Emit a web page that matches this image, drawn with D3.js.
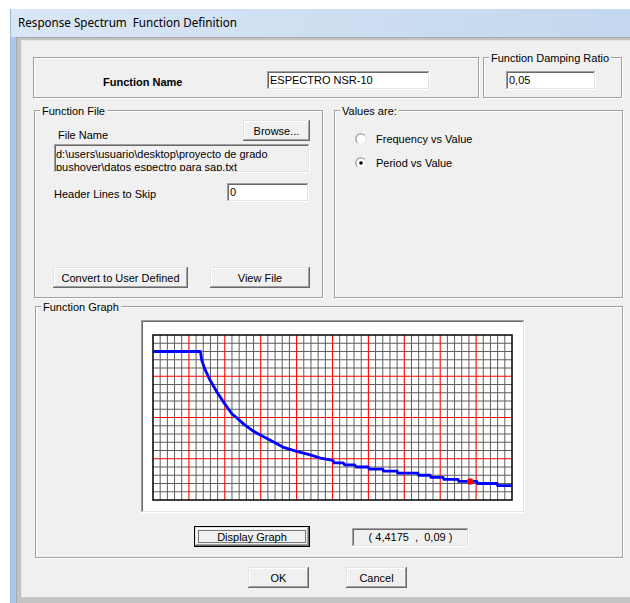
<!DOCTYPE html>
<html><head><meta charset="utf-8">
<script src="https://cdn.jsdelivr.net/npm/d3@7"></script>
<style>
body{margin:0;background:#fff}
svg{display:block}
text{font-family:"Liberation Sans",Arial,sans-serif;font-size:11px;fill:#000;white-space:pre}
</style>
</head><body>
<svg id="c" width="630" height="603"></svg>
<script>
// ---- data ----
const periods = [0, 0.66, 0.68, 0.72, 0.79, 0.89, 1.00, 1.10, 1.17, 1.26, 1.40, 1.54, 1.68, 1.82, 2.00, 2.19, 2.33, 2.47,
  2.51, 2.52, 2.65, 2.67, 2.81, 2.83, 3.00, 3.01, 3.20, 3.21, 3.40, 3.41, 3.69, 3.70, 3.86, 3.87, 4.04, 4.05, 4.25, 4.26, 4.51, 4.52, 4.79, 4.80, 5.00];
const spectrum = [0.72, 0.72, 0.676, 0.637, 0.584, 0.524, 0.466, 0.417, 0.398, 0.369, 0.333, 0.307, 0.281, 0.255, 0.236, 0.219, 0.203, 0.195,
  0.19, 0.18, 0.18, 0.17, 0.17, 0.16, 0.16, 0.15, 0.15, 0.14, 0.14, 0.13, 0.13, 0.12, 0.12, 0.11, 0.11, 0.10, 0.10, 0.09, 0.09, 0.08, 0.08, 0.07, 0.07];
const xDomain = [0, 5];
const yDomain = [0, 0.8];
const xMajorTicks = [0.5, 1, 1.5, 2, 2.5, 3, 3.5, 4, 4.5];
const xMinorTicks = d3.range(1, 50).filter(i => i % 5 !== 0).map(i => i / 10);
const yMajorTicks = [0.2, 0.4, 0.6];
const yMinorTicks = d3.range(1, 20).filter(i => i % 5 !== 0).map(i => i * 0.04);
const markerT = 4.4175, markerSa = 0.09;
const markerLabel = "( 4,4175  ,  0,09 )";

const svg = d3.select("#c");
const defs = svg.append("defs");

// ---- helpers ----
function hline(g, x1, x2, y, c){ g.append("line").attr("x1",x1).attr("x2",x2).attr("y1",y+0.5).attr("y2",y+0.5).attr("stroke",c); }
function vline(g, x, y1, y2, c){ g.append("line").attr("x1",x+0.5).attr("x2",x+0.5).attr("y1",y1).attr("y2",y2).attr("stroke",c); }
function raised(g, x, y, w, h, fill){
  g.append("rect").attr("x",x).attr("y",y).attr("width",w).attr("height",h).attr("fill",fill||"#f0f0f0");
  hline(g, x, x+w-1, y, "#e3e3e3"); vline(g, x, y, y+h-1, "#e3e3e3");
  hline(g, x+1, x+w-2, y+1, "#ffffff"); vline(g, x+1, y+1, y+h-2, "#ffffff");
  hline(g, x+1, x+w-1, y+h-2, "#a0a0a0"); vline(g, x+w-2, y+1, y+h-1, "#a0a0a0");
  hline(g, x, x+w, y+h-1, "#696969"); vline(g, x+w-1, y, y+h, "#696969");
}
function sunken(g, x, y, w, h, fill){
  g.append("rect").attr("x",x).attr("y",y).attr("width",w).attr("height",h).attr("fill",fill);
  hline(g, x, x+w-1, y, "#a0a0a0"); vline(g, x, y, y+h-1, "#a0a0a0");
  hline(g, x+1, x+w-2, y+1, "#696969"); vline(g, x+1, y+1, y+h-2, "#696969");
  hline(g, x+1, x+w-1, y+h-2, "#e3e3e3"); vline(g, x+w-2, y+1, y+h-1, "#e3e3e3");
  hline(g, x, x+w, y+h-1, "#ffffff"); vline(g, x+w-1, y, y+h, "#ffffff");
}
function group(g, x, y, w, h, legend){
  g.append("rect").attr("x",x+1.5).attr("y",y+1.5).attr("width",w-1).attr("height",h-1).attr("fill","none").attr("stroke","#ffffff");
  g.append("rect").attr("x",x+0.5).attr("y",y+0.5).attr("width",w-1).attr("height",h-1).attr("fill","none").attr("stroke","#a0a0a0");
  if (legend){
    const mask = g.append("rect").attr("x", x+6).attr("y", y-2).attr("height", 6).attr("fill","#f0f0f0");
    const t = g.append("text").attr("x", x+8).attr("y", y+4.5).text(legend);
    mask.attr("width", t.node().getComputedTextLength()+4);
  }
}
function button(g, x, y, w, h, label){
  raised(g, x, y, w, h);
  g.append("text").attr("x", x+w/2).attr("y", y+h/2+4).attr("text-anchor","middle").text(label);
}

// ---- window frame ----
const grad = defs.append("linearGradient").attr("id","tb").attr("x1",0).attr("x2",1).attr("y1",0).attr("y2",0);
grad.append("stop").attr("offset",0).attr("stop-color","#d9e6f5");
grad.append("stop").attr("offset",0.5).attr("stop-color","#cfdff2");
grad.append("stop").attr("offset",1).attr("stop-color","#c3d7ee");
svg.append("rect").attr("x",10).attr("y",9).attr("width",620).attr("height",28).attr("fill","url(#tb)");
svg.append("rect").attr("x",10).attr("y",37).attr("width",6).attr("height",566).attr("fill","#a9c8ea");
vline(svg, 10, 9, 603, "#9fb9d6");
svg.append("rect").attr("x",16).attr("y",37).attr("width",614).attr("height",566).attr("fill","#c3c3c3");
hline(svg, 16, 630, 37, "#a8a8a8"); vline(svg, 16, 37, 603, "#a8a8a8");
svg.append("rect").attr("x",21).attr("y",40).attr("width",609).attr("height",557).attr("fill","#f0f0f0");
hline(svg, 21, 630, 40, "#e6e6e6"); vline(svg, 21, 40, 597, "#e6e6e6");
hline(svg, 21, 630, 597, "#cacaca");
svg.append("text").attr("x",18).attr("y",27).style("font-family","'Noto Sans','Open Sans',sans-serif").style("font-size","12px")
  .attr("textLength",219).attr("lengthAdjust","spacingAndGlyphs").text("Response Spectrum  Function Definition");

const ui = svg.append("g");

// ---- Function name ----
group(ui, 33, 57, 446, 41, null);
ui.append("text").attr("x",103).attr("y",86).style("font-weight","bold").text("Function Name");
sunken(ui, 267, 71, 163, 19, "#ffffff");
ui.append("text").attr("x",270).attr("y",84).text("ESPECTRO NSR-10");

group(ui, 483, 57, 139, 41, "Function Damping Ratio");
sunken(ui, 506, 71, 90, 19, "#ffffff");
ui.append("text").attr("x",509).attr("y",84).text("0,05");

// ---- Function file ----
group(ui, 34, 110, 289, 188, "Function File");
ui.append("text").attr("x",58).attr("y",139).text("File Name");
button(ui, 243, 120, 67, 21, "Browse...");
sunken(ui, 54, 144, 256, 29, "#f0f0f0");
defs.append("clipPath").attr("id","fp").append("rect").attr("x",56).attr("y",146).attr("width",252).attr("height",25);
const fp = ui.append("g").attr("clip-path","url(#fp)");
fp.append("text").attr("x",56).attr("y",158).text("d:\\users\\usuario\\desktop\\proyecto de grado");
fp.append("text").attr("x",56).attr("y",171).text("pushover\\datos espectro para sap.txt");
ui.append("text").attr("x",54).attr("y",198).text("Header Lines to Skip");
sunken(ui, 227, 183, 82, 19, "#ffffff");
ui.append("text").attr("x",230).attr("y",196).text("0");
button(ui, 53, 267, 135, 21, "Convert to User Defined");
button(ui, 210, 267, 100, 21, "View File");

// ---- Values are ----
group(ui, 334, 110, 289, 188, "Values are:");
const arcTL = d3.arc().innerRadius(4.5).outerRadius(5.8).startAngle(-Math.PI*0.75).endAngle(Math.PI*0.25);
function radio(cx, cy, checked, label){
  ui.append("circle").attr("cx",cx).attr("cy",cy).attr("r",5.2).attr("fill","#ffffff").attr("stroke","#e8e8e8");
  ui.append("path").attr("d", arcTL()).attr("transform",`translate(${cx},${cy})`).attr("fill","#a0a0a0");
  if (checked) ui.append("circle").attr("cx",cx).attr("cy",cy).attr("r",1.8).attr("fill","#000");
  ui.append("text").attr("x",376).attr("y",cy+4).text(label);
}
radio(361, 139, false, "Frequency vs Value");
radio(361, 163, true, "Period vs Value");

// ---- Function graph ----
group(ui, 35, 306, 588, 252, "Function Graph");
sunken(ui, 141, 320, 384, 193, "#ffffff");

const x = d3.scaleLinear().domain(xDomain).range([153, 512]);
const y = d3.scaleLinear().domain(yDomain).range([500, 335]);
const plot = svg.append("g");
plot.append("g").selectAll("line").data(xMinorTicks).join("line")
  .attr("x1", d => x(d)).attr("x2", d => x(d)).attr("y1", y(yDomain[0])).attr("y2", y(yDomain[1]))
  .attr("stroke", "#5e5e5e").attr("stroke-width", 1);
plot.append("g").selectAll("line").data(yMinorTicks).join("line")
  .attr("y1", d => y(d)).attr("y2", d => y(d)).attr("x1", x(xDomain[0])).attr("x2", x(xDomain[1]))
  .attr("stroke", "#5e5e5e").attr("stroke-width", 1);
plot.append("g").selectAll("line").data(xMajorTicks).join("line")
  .attr("x1", d => x(d)).attr("x2", d => x(d)).attr("y1", y(yDomain[0])).attr("y2", y(yDomain[1]))
  .attr("stroke", "#ff0000").attr("stroke-width", 1.1);
plot.append("g").selectAll("line").data(yMajorTicks).join("line")
  .attr("y1", d => y(d)).attr("y2", d => y(d)).attr("x1", x(xDomain[0])).attr("x2", x(xDomain[1]))
  .attr("stroke", "#ff0000").attr("stroke-width", 1.1);
plot.append("rect").attr("x", x(xDomain[0])).attr("y", y(yDomain[1])).attr("width", x(xDomain[1]) - x(xDomain[0]))
  .attr("height", y(yDomain[0]) - y(yDomain[1])).attr("fill","none").attr("stroke","#000").attr("stroke-width",1.5);

const pts = periods.map((t, i) => [t, spectrum[i]]);
plot.append("path").datum(pts)
  .attr("d", d3.line().x(d => x(d[0])).y(d => y(d[1])))
  .attr("fill","none").attr("stroke","#0000ff").attr("stroke-width",2.8).attr("stroke-linejoin","round");
plot.append("circle").attr("cx", x(markerT)).attr("cy", y(markerSa)).attr("r", 3.3).attr("fill", "#ff0000");

// ---- bottom controls ----
ui.append("rect").attr("x",194.5).attr("y",526.5).attr("width",115).attr("height",20).attr("fill","none").attr("stroke","#000");
raised(ui, 195, 527, 114, 19);
ui.append("rect").attr("x",198.5).attr("y",530.5).attr("width",107).attr("height",12).attr("fill","none")
  .attr("stroke","#000").attr("stroke-dasharray","1,1");
ui.append("text").attr("x",252).attr("y",541).attr("text-anchor","middle").text("Display Graph");
sunken(ui, 352, 528, 117, 19, "#f0f0f0");
ui.append("text").attr("x",410.5).attr("y",541).attr("text-anchor","middle").text(markerLabel);

button(ui, 248, 567, 61, 21, "OK");
button(ui, 346, 567, 61, 21, "Cancel");
</script>
</body></html>
